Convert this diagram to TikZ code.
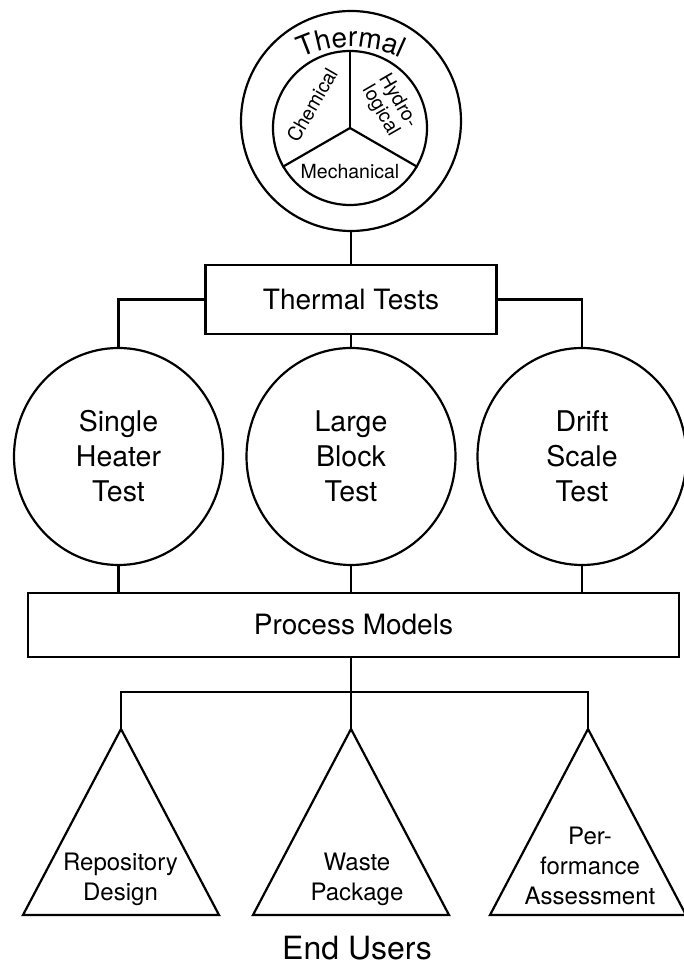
\documentclass[tikz,border=0pt]{standalone}
\usepackage{fontspec}
\setmainfont{TeX Gyre Heros}
\usetikzlibrary{shapes.geometric,decorations.text}
\begin{document}
\begin{tikzpicture}[x=1pt,y=1pt,
  ln/.style={line width=2.2pt},
  boxnode/.style={draw,line width=2.2pt,rectangle,inner sep=0pt,font=\fontsize{28}{34}\selectfont},
  testnode/.style={draw,line width=2.2pt,ellipse,minimum width=209pt,minimum height=217pt,inner sep=0pt,align=center,font=\fontsize{28.5}{35}\selectfont},
  usertext/.style={align=center,font=\fontsize{24}{30}\selectfont,inner sep=0pt},
  sectortext/.style={align=center,font=\fontsize{19.5}{20}\selectfont,inner sep=0pt}]
\fill[white] (0,0) rectangle (683,966);
\useasboundingbox (0,0) rectangle (683,966);

% top circle
\node[draw,line width=2.2pt,circle,minimum size=220pt,inner sep=0pt] (th) at (351,845) {};
\node[draw,line width=2.2pt,circle,minimum size=154pt,inner sep=0pt] (ic) at (350,838) {};
\draw[ln] (ic.center) -- (ic.90);
\draw[ln] (ic.center) -- (ic.210);
\draw[ln] (ic.center) -- (ic.330);
\path[decorate,decoration={text along path,text={|\fontsize{28}{28}\selectfont|Thermal},text align=center}]
  (351,804) ++(120:115) arc[start angle=120,end angle=60,radius=115];
\node[sectortext,rotate=60] (chem) at (312,861) {Chemical};
\node[sectortext,rotate=-60] (hydro) at (389,860) {Hydro-\\logical};
\node[sectortext] (mech) at (350,794) {Mechanical};

% thermal tests
\node[boxnode,minimum width=291pt,minimum height=69pt] (tt) at (351,666.5) {Thermal Tests};

% tests
\node[testnode] (e1) at (118.5,509.5) {Single\\Heater\\Test};
\node[testnode] (e2) at (351,509.5) {Large\\Block\\Test};
\node[testnode] (e3) at (582,509.5) {Drift\\Scale\\Test};

% process models
\node[boxnode,minimum width=651pt,minimum height=64pt] (pm) at (353.5,341) {Process Models};

% connectors
\draw[ln] (th.south) -- (tt.north);
\draw[ln] (tt.west) -| (e1.north);
\draw[ln] (tt.east) -| (e3.north);
\draw[ln] (tt.south) -- (e2.north);
\draw[ln] (e1.south) -- (e1.south |- pm.north);
\draw[ln] (e2.south) -- (e2.south |- pm.north);
\draw[ln] (e3.south) -- (e3.south |- pm.north);

% end users
\coordinate (hub) at (351,274);
\coordinate (t1) at (121,237);
\coordinate (t2) at (351,237);
\coordinate (t3) at (588,237);
\draw[ln] (pm.south -| hub) -- (t2);
\draw[ln] (t1) -- (t1 |- hub) -- (t3 |- hub) -- (t3);
\draw[ln,line join=miter] (t1) -- ++(-98,-186) -- ++(196,0) -- cycle;
\draw[ln,line join=miter] (t2) -- ++(-98,-186) -- ++(196,0) -- cycle;
\draw[ln,line join=miter] (t3) -- ++(-98,-186) -- ++(196,0) -- cycle;
\node[usertext] (u1) at (120.5,87) {Repository\\Design};
\node[usertext] (u2) at (357,87) {Waste\\Package};
\node[usertext] (u3) at (590,99.6) {Per-\\formance\\Assessment};
\node[anchor=base,inner sep=0pt,font=\fontsize{32}{32}\selectfont] (eu) at (357,6) {End Users};
\end{tikzpicture}
\end{document}
